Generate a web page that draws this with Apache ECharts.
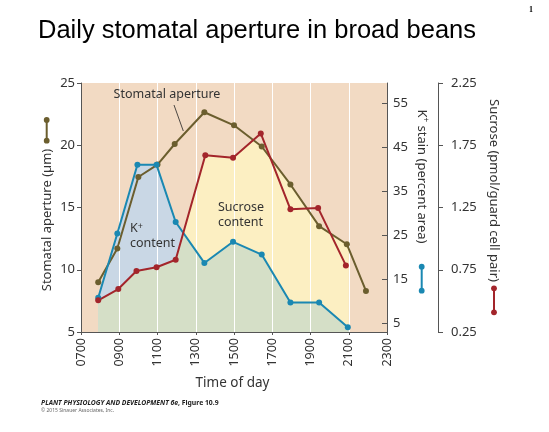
<!DOCTYPE html>
<html>
<head>
<meta charset="utf-8">
<style>
  html, body { margin: 0; padding: 0; background: #ffffff; }
  #chart { width: 549px; height: 432px; }
</style>
<script src="https://cdn.jsdelivr.net/npm/echarts@6/dist/echarts.min.js"></script>
</head>
<body>
<div id="chart"></div>
<script>
// ---- data ----
const timeTickLabels = ['0700', '0900', '1100', '1300', '1500', '1700', '1900', '2100', '2300'];
const apertureTicks = [5, 10, 15, 20, 25];
const kTicks = [5, 15, 25, 35, 45, 55];
const sucroseTicks = [0.25, 0.75, 1.25, 1.75, 2.25];

// Stomatal aperture (µm) vs time of day (hours)
const apertureTimes = [7.9, 8.9, 10.0, 11.0, 11.9, 13.45, 15.0, 16.45, 17.95, 19.45, 20.9, 21.9];
const apertureValues = [9.0, 11.7, 17.45, 18.45, 20.1, 22.65, 21.6, 19.9, 16.85, 13.5, 12.05, 8.3];

// K+ stain (percent area)
const kTimes = [7.9, 8.9, 9.95, 10.95, 11.95, 13.45, 14.95, 16.45, 17.95, 19.45, 20.95];
const kValues = [10.9, 25.5, 41.1, 41.1, 28.1, 18.8, 23.6, 20.7, 9.8, 9.8, 4.2];

// Sucrose (pmol/guard cell pair)
const sucroseTimes = [7.9, 8.95, 9.9, 10.95, 11.95, 13.5, 14.95, 16.4, 17.95, 19.4, 20.85];
const sucroseValues = [0.505, 0.595, 0.74, 0.77, 0.83, 1.67, 1.65, 1.845, 1.235, 1.245, 0.785];

const fillEndTime = 21.0; // shaded areas end at the 2100 grid line

// ---- styling ----
const FONT = "'Noto Sans', 'Open Sans', sans-serif";
const TXT = '#333333';
const AXIS = '#555555';
const C_AP = '#6b5e2e';
const C_K = '#1a88b2';
const C_S = '#a3252b';
const F_PEACH = '#f2dac3';
const F_BLUE = '#c9d7e5';
const F_YELLOW = '#fcefc2';
const F_GREEN = '#d5dfc7';

const chart = echarts.init(document.getElementById('chart'), null, { renderer: 'canvas' });

function pairs(ts, vs) { return ts.map((t, i) => [t, vs[i]]); }

function interpAt(P, x) {
  if (x <= P[0][0]) return P[0][1];
  const n = P.length;
  if (x >= P[n - 1][0]) return P[n - 1][1];
  for (let i = 0; i < n - 1; i++) {
    const a = P[i], b = P[i + 1];
    if (x >= a[0] && x <= b[0]) {
      if (b[0] === a[0]) return a[1];
      return a[1] + (b[1] - a[1]) * (x - a[0]) / (b[0] - a[0]);
    }
  }
  return P[n - 1][1];
}

function renderFills(params, api) {
  const px = t => chart.convertToPixel({ xAxisIndex: 0 }, t);
  const py = (idx, v) => chart.convertToPixel({ yAxisIndex: idx }, v);
  const O = apertureTimes.map((t, i) => [px(t), py(0, apertureValues[i])]);
  const B = kTimes.map((t, i) => [px(t), py(1, kValues[i])]);
  const R = sucroseTimes.map((t, i) => [px(t), py(2, sucroseValues[i])]);
  const x0 = px(kTimes[0]);
  const x1 = px(fillEndTime);
  const yBot = py(0, apertureTicks[0]);
  // red peak (highest sucrose)
  let pk = 0;
  sucroseValues.forEach((v, i) => { if (v > sucroseValues[pk]) pk = i; });
  const xPeak = R[pk][0];

  let xs = [x0, x1];
  [O, B, R].forEach(P => P.forEach(p => { if (p[0] > x0 && p[0] < x1) xs.push(p[0]); }));
  xs.sort((a, b) => a - b);
  const extra = [];
  const curves = [[B, R], [R, O], [B, O]];
  for (let i = 0; i < xs.length - 1; i++) {
    const xa = xs[i], xb = xs[i + 1];
    if (xb - xa < 1e-6) continue;
    curves.forEach(([P, Q]) => {
      const da = interpAt(P, xa) - interpAt(Q, xa);
      const db = interpAt(P, xb) - interpAt(Q, xb);
      if (da * db < 0) extra.push(xa + (xb - xa) * da / (da - db));
    });
  }
  xs = xs.concat(extra).sort((a, b) => a - b);

  const yellowTop = [], blueTop = [], greenTop = [];
  xs.forEach(x => {
    const b = interpAt(B, x), r = interpAt(R, x), o = interpAt(O, x);
    yellowTop.push([x, x <= xPeak ? Math.max(r, o) : o]);
    blueTop.push([x, b]);
    greenTop.push([x, Math.max(b, r)]);
  });
  const close = pts => pts.concat([[x1, yBot], [x0, yBot]]);
  return {
    type: 'group',
    children: [
      { type: 'polygon', shape: { points: close(yellowTop) }, style: { fill: F_YELLOW }, silent: true },
      { type: 'polygon', shape: { points: close(blueTop) }, style: { fill: F_BLUE }, silent: true },
      { type: 'polygon', shape: { points: close(greenTop) }, style: { fill: F_GREEN }, silent: true }
    ]
  };
}

function txt(x, y, text, opts) {
  opts = opts || {};
  return {
    type: 'text', x: x, y: y, rotation: opts.rotation || 0, silent: true, z: 100,
    style: Object.assign({
      text: text, x: 0, y: 0,
      fill: opts.color || TXT,
      font: opts.font || ('13px ' + FONT),
      align: opts.align || 'center', verticalAlign: 'middle',
      textAlign: opts.align || 'center', textVerticalAlign: 'middle'
    }, opts.extra || {})
  };
}

function glyph(x, y1, y2, color) {
  return {
    type: 'group', silent: true, z: 100,
    children: [
      { type: 'line', shape: { x1: x, y1: y1, x2: x, y2: y2 }, style: { stroke: color, lineWidth: 2 } },
      { type: 'circle', shape: { cx: x, cy: y1, r: 2.9 }, style: { fill: color } },
      { type: 'circle', shape: { cx: x, cy: y2, r: 2.9 }, style: { fill: color } }
    ]
  };
}

const lineSeries = (name, data, color, yIdx) => ({
  name: name, type: 'line', data: data, xAxisIndex: 0, yAxisIndex: yIdx,
  symbol: 'circle', symbolSize: 6, showSymbol: true,
  lineStyle: { color: color, width: 2 },
  itemStyle: { color: color },
  z: 5, silent: true, animation: false
});

const option = {
  animation: false,
  backgroundColor: '#ffffff',
  grid: {
    left: 81, right: 162, top: 83, bottom: 100,
    show: true, backgroundColor: F_PEACH, borderWidth: 0, z: -2
  },
  xAxis: {
    type: 'value', min: 7, max: 23, interval: 2, z: 0,
    axisLine: { show: true, lineStyle: { color: AXIS, width: 1 } },
    axisTick: { show: true, inside: false, length: 3, lineStyle: { color: AXIS } },
    axisLabel: {
      rotate: 90, margin: 6, color: TXT, fontSize: 12.5, fontFamily: FONT,
      formatter: v => timeTickLabels[Math.round((v - 7) / 2)] || ''
    },
    splitLine: { show: true, lineStyle: { color: '#ffffff', width: 1 } }
  },
  yAxis: [
    {
      type: 'value', position: 'left', min: 5, max: 25, interval: 5, z: 0,
      axisLine: { show: true, lineStyle: { color: AXIS, width: 1 } },
      axisTick: { show: true, inside: false, length: 4, lineStyle: { color: AXIS } },
      axisLabel: { margin: 6, color: TXT, fontSize: 13, fontFamily: FONT },
      splitLine: { show: false }
    },
    {
      type: 'value', position: 'right', offset: 0, min: 3.1, max: 59.7, z: 0,
      axisLine: { show: true, lineStyle: { color: AXIS, width: 1 } },
      axisTick: { show: true, inside: true, length: 5, customValues: kTicks, lineStyle: { color: AXIS } },
      axisLabel: { margin: 6, color: TXT, fontSize: 13, fontFamily: FONT, customValues: kTicks },
      splitLine: { show: false }
    },
    {
      type: 'value', position: 'right', offset: 51, min: 0.25, max: 2.25, interval: 0.5, z: 0,
      axisLine: { show: true, lineStyle: { color: AXIS, width: 1 } },
      axisTick: { show: true, inside: false, length: 5, customValues: sucroseTicks, lineStyle: { color: AXIS } },
      axisLabel: {
        margin: 13, color: TXT, fontSize: 13, fontFamily: FONT, customValues: sucroseTicks,
        formatter: v => v.toFixed(2)
      },
      splitLine: { show: false }
    }
  ],
  series: [
    {
      type: 'custom', name: 'fills', coordinateSystem: 'cartesian2d',
      xAxisIndex: 0, yAxisIndex: 1, data: [[kTimes[0], kValues[0]]],
      renderItem: renderFills, z: -1, silent: true, animation: false, clip: false
    },
    lineSeries('Stomatal aperture', pairs(apertureTimes, apertureValues), C_AP, 0),
    lineSeries('K+ stain', pairs(kTimes, kValues), C_K, 1),
    lineSeries('Sucrose', pairs(sucroseTimes, sucroseValues), C_S, 2)
  ],
  graphic: [
    txt(38, 30.5, 'Daily stomatal aperture in broad beans', { align: 'left', color: '#000000', font: "25.5px 'Liberation Sans', Arial, sans-serif" }),
    txt(531, 10, '1', { color: '#000000', font: "bold 8px 'Liberation Serif', serif" }),
    {
      type: 'text', x: 41, y: 403, silent: true, z: 100,
      style: {
        text: '{i|PLANT PHYSIOLOGY AND DEVELOPMENT 6e}{b|, Figure 10.9}',
        align: 'left', verticalAlign: 'middle', textAlign: 'left', textVerticalAlign: 'middle',
        rich: {
          i: { fontStyle: 'italic', fontWeight: 'bold', fontSize: 6.8, fontFamily: FONT, fill: '#222', color: '#222' },
          b: { fontWeight: 'bold', fontSize: 6.8, fontFamily: FONT, fill: '#222', color: '#222' }
        }
      }
    },
    txt(41, 411, '\u00A9 2015 Sinauer Associates, Inc.', { align: 'left', color: '#666666', font: '5px ' + FONT }),
    // axis names
    txt(47, 220, 'Stomatal aperture (\u00B5m)', { rotation: Math.PI / 2, font: '13px ' + FONT }),
    {
      type: 'text', x: 421.7, y: 176.5, rotation: -Math.PI / 2, silent: true, z: 100,
      style: {
        text: '{a|K}{s|+}{a| stain (percent area)}',
        align: 'center', verticalAlign: 'middle', textAlign: 'center', textVerticalAlign: 'middle',
        rich: {
          a: { fontSize: 13, fontFamily: FONT, fill: TXT, color: TXT, lineHeight: 16 },
          s: { fontSize: 8, fontFamily: FONT, fill: TXT, color: TXT, verticalAlign: 'top', lineHeight: 16 }
        }
      }
    },
    txt(494, 190.5, 'Sucrose (pmol/guard cell pair)', { rotation: -Math.PI / 2, font: '13px ' + FONT }),
    txt(232.5, 383, 'Time of day', { font: '13.5px ' + FONT }),
    // annotations
    txt(167, 94.5, 'Stomatal aperture', { font: '12.5px ' + FONT }),
    { type: 'line', silent: true, z: 100, shape: { x1: 174, y1: 105, x2: 183.3, y2: 131 }, style: { stroke: '#222', lineWidth: 0.8 } },
    {
      type: 'text', x: 130, y: 236, silent: true, z: 100,
      style: {
        text: '{a|K}{s|+}\n{a|content}',
        align: 'left', verticalAlign: 'middle', textAlign: 'left', textVerticalAlign: 'middle',
        rich: {
          a: { fontSize: 12.5, fontFamily: FONT, fill: TXT, color: TXT, lineHeight: 14.5 },
          s: { fontSize: 9, fontFamily: FONT, fill: TXT, color: TXT, verticalAlign: 'top', lineHeight: 14.5 }
        }
      }
    },
    {
      type: 'text', x: 218, y: 214.5, silent: true, z: 100,
      style: {
        text: 'Sucrose\ncontent',
        align: 'left', verticalAlign: 'middle', textAlign: 'left', textVerticalAlign: 'middle',
        font: '12.5px ' + FONT, lineHeight: 15, fill: TXT
      }
    },
    // legend glyphs
    glyph(46.7, 120, 140.7, C_AP),
    glyph(421.7, 266.7, 290.7, C_K),
    glyph(494, 288.3, 312.3, C_S)
  ]
};

chart.setOption(option);
</script>
</body>
</html>
